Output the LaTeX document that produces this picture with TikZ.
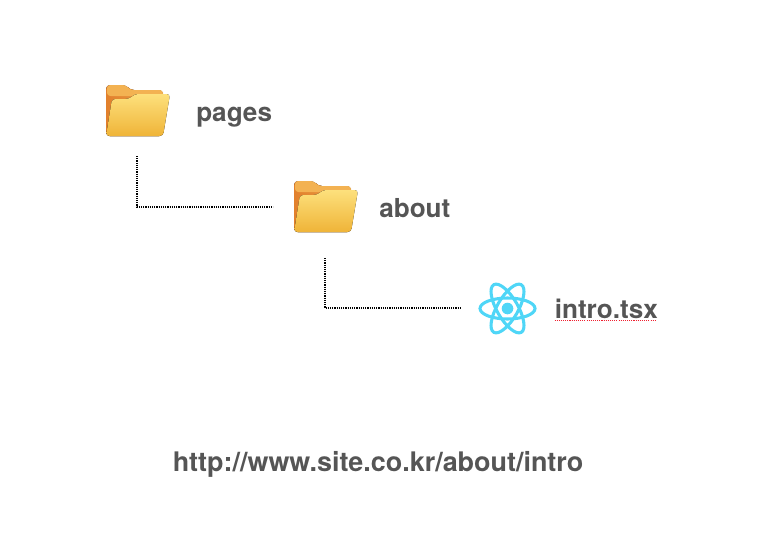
\documentclass[tikz,border=0pt]{standalone}
\usepackage{fontspec}
\setmainfont{TeX Gyre Heros}
\definecolor{labelgray}{HTML}{555555}
\definecolor{reactblue}{HTML}{4FD6F7}
\definecolor{backtop}{HTML}{F3B252}
\definecolor{backleft}{HTML}{E2802C}
\definecolor{backright}{HTML}{E9A24A}
\definecolor{fronttop}{HTML}{FDE07C}
\definecolor{frontbottom}{HTML}{EFB438}
\definecolor{squiggle}{HTML}{F02030}
\tikzset{
  x=0.75pt,y=-0.75pt,
  label text/.style={font=\fontsize{19.6pt}{24pt}\selectfont\bfseries,text=labelgray,inner sep=0pt,anchor=base west},
  url text/.style={font=\fontsize{20.2pt}{24pt}\selectfont\bfseries,text=labelgray,inner sep=0pt,anchor=base west},
  link/.style={draw=black,line width=1.05pt,dash pattern=on 0.9pt off 0.75pt},
  atom orbit/.style={draw=reactblue,line width=2.3pt},
  folder/.pic={
    \fill[left color=backleft,right color=backright,rounded corners=3]
      (0,0) -- (0,-51) -- (20,-51) -- (24,-46) -- (57,-46) -- (57,0) -- cycle;
    \fill[backtop,rounded corners=2.5] (1,-40) -- (1,-51) -- (20,-51) -- (24,-46) -- (57,-46) -- (57,-40) -- cycle;
    \fill[top color=fronttop,bottom color=frontbottom,rounded corners=2.5]
      (0,0) -- (6,-37) -- (23,-37) -- (29,-42) -- (64,-42) -- (57,0) -- cycle;
  }
}
\begin{document}
\begin{tikzpicture}
\useasboundingbox (0,0) rectangle (759,542);
\pic at (106,136) {folder};
\pic at (294,232) {folder};
\node[label text] (pages) at (196,121) {pages};
\node[label text] (about) at (379,217) {about};
\node[label text] (intro) at (554.5,318) {intro.tsx};
\node[url text] (url) at (172.5,471) {http://www.site.co.kr/about/intro};
\coordinate (pagesfoot) at (137,156);
\coordinate (abouthead) at (273,207);
\coordinate (aboutfoot) at (325,258);
\coordinate (introhead) at (461,308);
\draw[link] (pagesfoot) |- (abouthead);
\draw[link] (aboutfoot) |- (introhead);
\foreach \a in {0,60,120}
  \draw[atom orbit,rotate around={\a:(507.5,308.5)}] (507.5,308.5) ellipse [x radius=27.5,y radius=10.5];
\fill[reactblue] (507.5,308.5) circle [radius=5.8];
\draw[squiggle,line width=0.75pt,dash pattern=on 0.8pt off 0.8pt] (intro.base west)++(0,2) -- ++(102,0);
\end{tikzpicture}
\end{document}
